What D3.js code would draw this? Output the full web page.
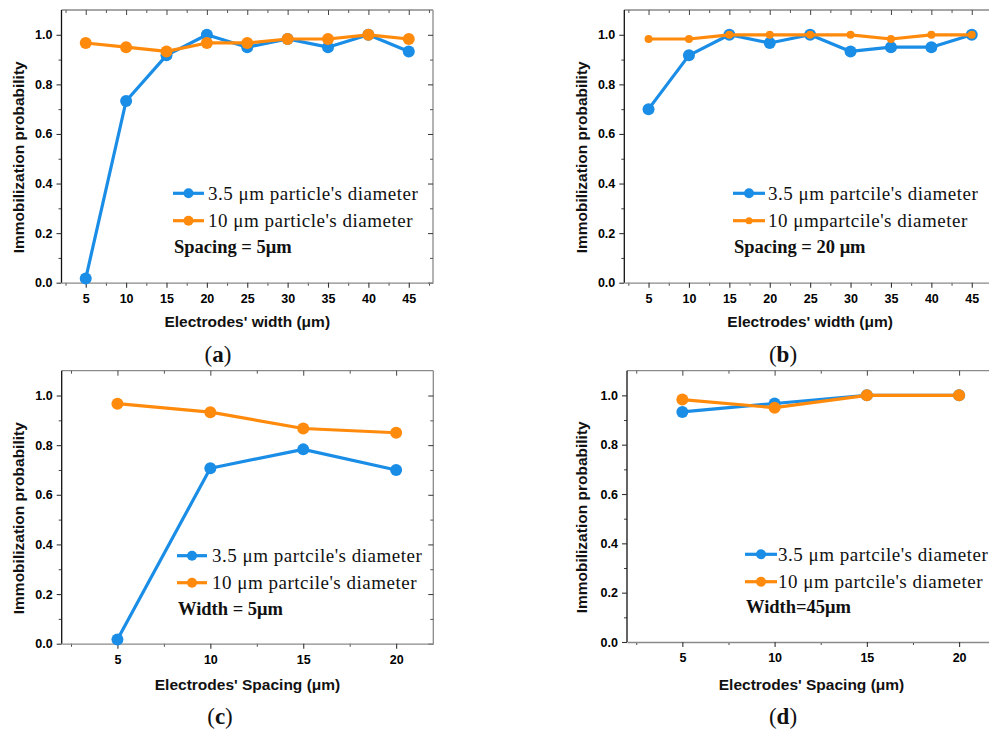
<!DOCTYPE html>
<html>
<head>
<meta charset="utf-8">
<script src="https://cdn.jsdelivr.net/npm/d3@7"></script>
<style>
  html, body { margin: 0; padding: 0; background: #fff; }
  svg { display: block; }
</style>
</head>
<body>
<svg id="chart" width="989" height="732"></svg>
<script>
// ---------- DATA ----------
const widthValues = [5, 10, 15, 20, 25, 30, 35, 40, 45];
const spacingValues = [5, 10, 15, 20];

const aSmall = [0.017, 0.733, 0.917, 1.0, 0.95, 0.983, 0.95, 1.0, 0.933];
const aLarge = [0.967, 0.95, 0.933, 0.967, 0.967, 0.983, 0.983, 1.0, 0.983];

const bSmall = [0.7, 0.917, 1.0, 0.967, 1.0, 0.933, 0.95, 0.95, 1.0];
const bLarge = [0.983, 0.983, 1.0, 1.0, 1.0, 1.0, 0.983, 1.0, 1.0];

const cSmall = [0.017, 0.707, 0.783, 0.7];
const cLarge = [0.967, 0.933, 0.867, 0.85];

const dSmall = [0.933, 0.967, 1.0, 1.0];
const dLarge = [0.983, 0.95, 1.0, 1.0];

const yTickValues = [0, 0.2, 0.4, 0.6, 0.8, 1.0];
const yMinorValues = [0.1, 0.3, 0.5, 0.7, 0.9];

const legendA = ["3.5 \u03bcm particle's diameter", "10 \u03bcm particle's diameter"];
const legendB = ["3.5 \u03bcm partcile's diameter", "10 \u03bcmpartcile's diameter"];
const legendC = ["3.5 \u03bcm partcile's diameter", "10 \u03bcm partcile's diameter"];
const legendD = ["3.5 \u03bcm partcile's diameter", "10 \u03bcm partcile's diameter"];

const noteLabels = ["Spacing = 5\u03bcm", "Spacing = 20 \u03bcm", "Width = 5\u03bcm", "Width=45\u03bcm"];
const panelLetters = ["a", "b", "c", "d"];
const xTitles = ["Electrodes' width (\u03bcm)", "Electrodes' width (\u03bcm)", "Electrodes' Spacing (\u03bcm)", "Electrodes' Spacing (\u03bcm)"];
const yTitle = "Immobilization probability";

// ---------- STYLE / LAYOUT ----------
const BLUE = "#1a8de6";
const ORANGE = "#ff8a0c";
const FRAME = "#8a8a8a";

const panels = [
  { left: 61.5, top: 10, right: 433, bottom: 282.7, xDomain: [2, 48], xs: widthValues, small: aSmall, large: aLarge,
    legend: legendA, legX: 173, legY: 193.3, legW: 31, legTextX: 208, legStep: 27.4, noteY: 253.3,
    rS: 6, rL: 6, lrS: 5, lrL: 5,
    yTitleX: 24, xTitleY: 327, letterX: 218, letterY: 362 },
  { left: 624.3, top: 10, right: 996, bottom: 282.7, xDomain: [2, 48], xs: widthValues, small: bSmall, large: bLarge,
    legend: legendB, legX: 733, legY: 193.3, legW: 32, legTextX: 768, legStep: 27.4, noteY: 253.3,
    rS: 6, rL: 4, lrS: 5, lrL: 3.5,
    yTitleX: 587, xTitleY: 327, letterX: 783, letterY: 362 },
  { left: 61.7, top: 370.7, right: 433.3, bottom: 643.7, xDomain: [2, 22], xs: spacingValues, small: cSmall, large: cLarge,
    legend: legendC, legX: 177, legY: 555.7, legW: 30, legTextX: 212, legStep: 27, noteY: 615,
    rS: 6, rL: 6, lrS: 5, lrL: 5,
    yTitleX: 24, xTitleY: 690, letterX: 220, letterY: 724 },
  { left: 627, top: 370.7, right: 996, bottom: 642, xDomain: [2, 22], xs: spacingValues, small: dSmall, large: dLarge,
    legend: legendD, legX: 745, legY: 554.3, legW: 32, legTextX: 778, legStep: 27.4, noteY: 613,
    rS: 6, rL: 6, lrS: 5, lrL: 5,
    yTitleX: 587, xTitleY: 690, letterX: 783, letterY: 724 }
];

const svg = d3.select("#chart");
svg.append("rect").attr("width", 989).attr("height", 732).attr("fill", "#fff");

panels.forEach((p, i) => {
  const g = svg.append("g");
  const x = d3.scaleLinear().domain(p.xDomain).range([p.left, p.right]);
  const y = d3.scaleLinear().domain([0, 1.1]).range([p.bottom, p.top]);
  const xMinor = d3.range(2.5, p.xDomain[1], 5);

  // frame: top and right
  g.append("line").attr("x1", p.left).attr("x2", p.right).attr("y1", p.top).attr("y2", p.top)
    .attr("stroke", FRAME).attr("stroke-width", 1.3);
  g.append("line").attr("x1", p.right).attr("x2", p.right).attr("y1", p.top).attr("y2", p.bottom)
    .attr("stroke", FRAME).attr("stroke-width", 1.3);

  const styleAxis = (sel, domainColor) => {
    sel.select(".domain").attr("stroke", domainColor).attr("stroke-width", 1.3);
    sel.selectAll(".tick line").attr("stroke", "#333").attr("stroke-width", 1.1);
    sel.selectAll(".tick text").attr("fill", "#000")
      .attr("font-family", "'Liberation Sans', Arial, sans-serif")
      .attr("font-weight", "bold").attr("font-size", "12.5px");
  };

  // top ticks (inward)
  const topAx = g.append("g").attr("transform", `translate(0,${p.top})`)
    .call(d3.axisTop(x).tickValues(p.xs).tickSize(-5).tickSizeOuter(0).tickFormat(""));
  topAx.select(".domain").remove();
  topAx.selectAll(".tick line").attr("stroke", "#444");
  const topMin = g.append("g").attr("transform", `translate(0,${p.top})`)
    .call(d3.axisTop(x).tickValues(xMinor).tickSize(-3).tickSizeOuter(0).tickFormat(""));
  topMin.select(".domain").remove();
  topMin.selectAll(".tick line").attr("stroke", "#555");

  // right ticks (inward)
  const rAx = g.append("g").attr("transform", `translate(${p.right},0)`)
    .call(d3.axisRight(y).tickValues(yTickValues).tickSize(-5).tickSizeOuter(0).tickFormat(""));
  rAx.select(".domain").remove();
  rAx.selectAll(".tick line").attr("stroke", "#333");
  const rMin = g.append("g").attr("transform", `translate(${p.right},0)`)
    .call(d3.axisRight(y).tickValues(yMinorValues).tickSize(-3).tickSizeOuter(0).tickFormat(""));
  rMin.select(".domain").remove();
  rMin.selectAll(".tick line").attr("stroke", "#555");

  // bottom axis
  const bMin = g.append("g").attr("transform", `translate(0,${p.bottom})`)
    .call(d3.axisBottom(x).tickValues(xMinor).tickSize(3).tickSizeOuter(0).tickFormat(""));
  bMin.select(".domain").remove();
  bMin.selectAll(".tick line").attr("stroke", "#444");
  const bAx = g.append("g").attr("transform", `translate(0,${p.bottom})`)
    .call(d3.axisBottom(x).tickValues(p.xs).tickSize(5).tickSizeOuter(0).tickPadding(6).tickFormat(d3.format("d")));
  styleAxis(bAx, FRAME);

  // left axis
  const lMin = g.append("g").attr("transform", `translate(${p.left},0)`)
    .call(d3.axisLeft(y).tickValues(yMinorValues).tickSize(3).tickSizeOuter(0).tickFormat(""));
  lMin.select(".domain").remove();
  lMin.selectAll(".tick line").attr("stroke", "#444");
  const lAx = g.append("g").attr("transform", `translate(${p.left},0)`)
    .call(d3.axisLeft(y).tickValues(yTickValues).tickSize(5).tickSizeOuter(0).tickPadding(4).tickFormat(d3.format(".1f")));
  styleAxis(lAx, "#111");
  lAx.select(".domain").attr("d", `M0,${p.top}V${p.bottom}`);

  // series
  const line = d3.line().x((d) => x(d[0])).y((d) => y(d[1]));
  const sData = p.xs.map((v, k) => [v, p.small[k]]);
  const lData = p.xs.map((v, k) => [v, p.large[k]]);

  g.append("path").datum(sData).attr("d", line).attr("fill", "none")
    .attr("stroke", BLUE).attr("stroke-width", 3.2).attr("stroke-linejoin", "round");
  g.selectAll(null).data(sData).enter().append("circle")
    .attr("cx", (d) => x(d[0])).attr("cy", (d) => y(d[1])).attr("r", p.rS).attr("fill", BLUE);

  g.append("path").datum(lData).attr("d", line).attr("fill", "none")
    .attr("stroke", ORANGE).attr("stroke-width", 3.2).attr("stroke-linejoin", "round");
  g.selectAll(null).data(lData).enter().append("circle")
    .attr("cx", (d) => x(d[0])).attr("cy", (d) => y(d[1])).attr("r", p.rL).attr("fill", ORANGE);

  // legend
  const legColors = [BLUE, ORANGE];
  const legR = [p.lrS, p.lrL];
  p.legend.forEach((txt, k) => {
    const ly = p.legY + k * p.legStep;
    g.append("line").attr("x1", p.legX).attr("x2", p.legX + p.legW).attr("y1", ly).attr("y2", ly)
      .attr("stroke", legColors[k]).attr("stroke-width", 3.2);
    g.append("circle").attr("cx", p.legX + p.legW / 2).attr("cy", ly).attr("r", legR[k]).attr("fill", legColors[k]);
    g.append("text").attr("x", p.legTextX).attr("y", ly + 6.2)
      .attr("font-family", "'Liberation Serif', 'Times New Roman', serif")
      .attr("font-size", "19px").attr("letter-spacing", "0.5px").attr("fill", "#111").text(txt);
  });
  g.append("text").attr("x", p.legX + 1).attr("y", p.noteY)
    .attr("font-family", "'Liberation Serif', 'Times New Roman', serif")
    .attr("font-weight", "bold").attr("font-size", "18.5px").attr("fill", "#111").text(noteLabels[i]);

  // axis titles
  g.append("text").attr("x", (p.left + Math.min(p.right, 996)) / 2 - (i % 2 === 1 ? 0 : 0))
    .attr("y", p.xTitleY).attr("text-anchor", "middle")
    .attr("font-family", "'Liberation Sans', Arial, sans-serif").attr("font-weight", "bold")
    .attr("font-size", "15.5px").attr("fill", "#111").text(xTitles[i]);

  g.append("text").attr("transform", `translate(${p.yTitleX},${(p.top + p.bottom) / 2 + 11}) rotate(-90)`)
    .attr("text-anchor", "middle")
    .attr("font-family", "'Liberation Sans', Arial, sans-serif").attr("font-weight", "bold")
    .attr("font-size", "15.5px").attr("fill", "#111").text(yTitle);

  // panel letter
  const lt = g.append("text").attr("x", p.letterX).attr("y", p.letterY).attr("text-anchor", "middle")
    .attr("font-family", "'Liberation Serif', 'Times New Roman', serif").attr("font-size", "23px").attr("fill", "#111");
  lt.append("tspan").text("(");
  lt.append("tspan").attr("font-weight", "bold").text(panelLetters[i]);
  lt.append("tspan").text(")");
});
</script>
</body>
</html>
